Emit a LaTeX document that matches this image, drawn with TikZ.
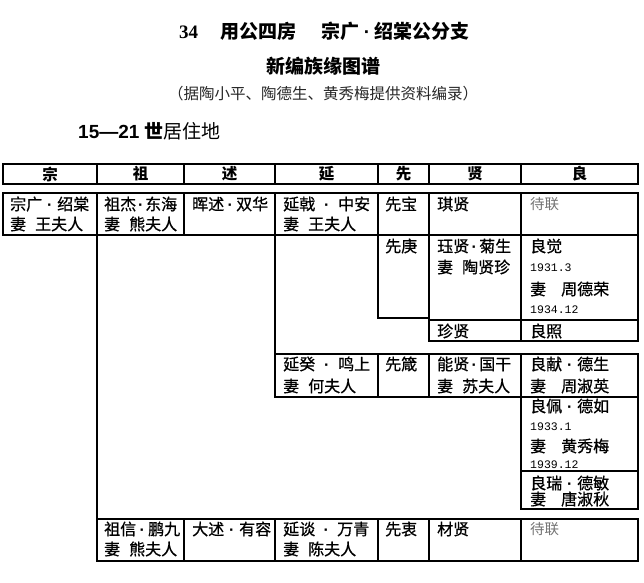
\documentclass[tikz,border=0pt]{standalone}
\usepackage{fontspec}
\newfontfamily\cjk[FakeBold=0.7]{Noto Sans CJK SC}
\newfontfamily\cjkl{Noto Sans CJK SC}
\newfontfamily\arialb{Liberation Sans}
\newfontfamily\timesb{Liberation Serif}
\newfontfamily\monof{Liberation Mono}
\newcommand\nd[1]{\makebox[#1][c]{\arialb\bfseries ·}}
\begin{document}
\begin{tikzpicture}[x=1pt,y=-1pt,
  cellbox/.style={draw=black,line width=1.1pt},
  txt/.style={anchor=west,inner sep=0pt,font=\cjk\fontsize{16}{16}\selectfont},
  dt/.style={anchor=west,inner sep=0pt,font=\monof\fontsize{11.5}{11.5}\selectfont},
  grey/.style={anchor=west,inner sep=0pt,text=black!55,font=\cjkl\fontsize{14.5}{14.5}\selectfont},
  hdr/.style={inner sep=0pt,font=\cjkl\bfseries\fontsize{15.5}{15.5}\selectfont}]
\useasboundingbox (0,0) rectangle (644,582);
% titles
\node[inner sep=0pt,font=\cjkl\bfseries\fontsize{19}{19}\selectfont] (title) at (324,31)
  {{\timesb\bfseries 34}\hspace{22pt}用公四房\hspace{26pt}宗广\nd{14pt}绍棠公分支};
\node[inner sep=0pt,font=\cjkl\bfseries\fontsize{19}{19}\selectfont] (sub) at (323,66) {新编族缘图谱};
\node[inner sep=0pt,font=\cjkl\fontsize{15.5}{15.5}\selectfont,text=black!85] (src) at (323,94)
  {（据陶小平、陶德生、黄秀梅提供资料编录）};
\node[anchor=west,inner sep=0pt] (gen) at (78,131)
  {{\arialb\bfseries\fontsize{19}{19}\selectfont 15—21 }{\cjkl\bfseries\fontsize{19}{19}\selectfont 世}{\cjkl\fontsize{19}{19}\selectfont 居住地}};
% header
\foreach \a/\b/\t [count=\i] in {3/97/宗,97/184/祖,184/275/述,275/378/延,378/429/先,429/521/贤,521/638/良}{
  \draw[cellbox] (\a,164) rectangle (\b,184);
  \node[hdr] (h\i) at ({(\a+\b)/2},174) {\t};
}
% row 1
\foreach \a/\b in {3/97,97/184,184/275,275/378,378/429,429/521,521/638}
  \draw[cellbox] (\a,193) rectangle (\b,235);
\node[txt] (r1a) at (10,204) {宗广\nd{15pt}绍棠};
\node[txt] (r1a2) at (10,224) {妻\hspace{9pt}王夫人};
\node[txt] (r1b) at (104,204) {祖杰\nd{9pt}东海};
\node[txt] (r1b2) at (104,224) {妻\hspace{9pt}熊夫人};
\node[txt] (r1c) at (192,204) {晖述\nd{12pt}双华};
\node[txt] (r1d) at (283,204) {延戟\nd{23pt}中安};
\node[txt] (r1d2) at (283,224) {妻\hspace{9pt}王夫人};
\node[txt] (r1e) at (385,204) {先宝};
\node[txt] (r1f) at (437,204) {琪贤};
\node[grey] (r1g) at (530,204) {待联};
% left branch lines
\draw[cellbox] (97,235) -- (97,519);
\draw[cellbox] (275,235) -- (275,354);
% 先庚 block
\draw[cellbox] (378,235) rectangle (429,318);
\draw[cellbox] (429,235) rectangle (521,320);
\draw[cellbox] (521,235) rectangle (638,320);
\draw[cellbox] (429,320) rectangle (521,341);
\draw[cellbox] (521,320) rectangle (638,341);
\node[txt] (r2e) at (385,246) {先庚};
\node[txt] (r2f) at (437,246) {珏贤\nd{10pt}菊生};
\node[txt] (r2f2) at (437,267) {妻\hspace{9pt}陶贤珍};
\node[txt] (r2g) at (530,246) {良觉};
\node[dt] (r2g2) at (530,268) {1931.3};
\node[txt] (r2g3) at (530,289) {妻\hspace{15pt}周德荣};
\node[dt] (r2g4) at (530,310) {1934.12};
\node[txt] (r3f) at (437,331) {珍贤};
\node[txt] (r3g) at (530,331) {良照};
% 延癸 block
\foreach \a/\b in {275/378,378/429,429/521,521/638}
  \draw[cellbox] (\a,354) rectangle (\b,397);
\draw[cellbox] (521,397) rectangle (638,471);
\draw[cellbox] (521,471) rectangle (638,509);
\node[txt] (r4d) at (283,364) {延癸\nd{23pt}鸣上};
\node[txt] (r4d2) at (283,386) {妻\hspace{9pt}何夫人};
\node[txt] (r4e) at (385,364) {先箴};
\node[txt] (r4f) at (437,364) {能贤\nd{10pt}国干};
\node[txt] (r4f2) at (437,386) {妻\hspace{9pt}苏夫人};
\node[txt] (r4g) at (530,364) {良献\nd{15pt}德生};
\node[txt] (r4g2) at (530,386) {妻\hspace{15pt}周淑英};
\node[txt] (r5g) at (530,406) {良佩\nd{15pt}德如};
\node[dt] (r5g2) at (530,427) {1933.1};
\node[txt] (r5g3) at (530,446) {妻\hspace{15pt}黄秀梅};
\node[dt] (r5g4) at (530,465) {1939.12};
\node[txt] (r6g) at (530,483) {良瑞\nd{15pt}德敏};
\node[txt] (r6g2) at (530,499) {妻\hspace{15pt}唐淑秋};
% 祖信 row
\foreach \a/\b in {97/184,184/275,275/378,378/429,429/521,521/638}
  \draw[cellbox] (\a,519) rectangle (\b,561);
\node[txt] (r7b) at (104,529) {祖信\nd{12pt}鹏九};
\node[txt] (r7b2) at (104,549) {妻\hspace{9pt}熊夫人};
\node[txt] (r7c) at (192,529) {大述\nd{15pt}有容};
\node[txt] (r7d) at (283,529) {延谈\nd{22pt}万青};
\node[txt] (r7d2) at (283,549) {妻\hspace{9pt}陈夫人};
\node[txt] (r7e) at (385,529) {先衷};
\node[txt] (r7f) at (437,529) {材贤};
\node[grey] (r7g) at (530,529) {待联};
\end{tikzpicture}
\end{document}
